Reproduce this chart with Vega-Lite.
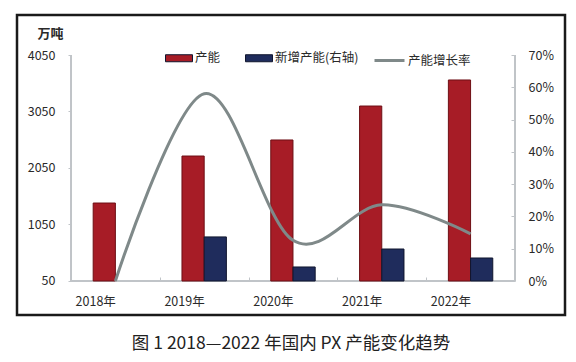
{
  "$schema": "https://vega.github.io/schema/vega-lite/v6.json",
  "width": 548,
  "height": 300,
  "autosize": {"type": "none"},
  "padding": {"left": 17, "top": 15, "right": 11, "bottom": 47},
  "background": "white",
  "config": {
    "view": {"stroke": "#1a1a1a", "strokeWidth": 2.5},
    "font": "Noto Sans CJK SC",
    "axis": {"labelFont": "Noto Sans CJK SC", "labelColor": "#2a2a2a", "labelFontSize": 12, "grid": false, "domain": false, "tickColor": "#c0c4c8"}
  },
  "title": {"text": "图 1  2018—2022 年国内 PX 产能变化趋势", "orient": "bottom", "fontSize": 17.5, "fontWeight": "normal", "color": "#222222", "offset": 20, "font": "Noto Sans CJK SC"},
  "datasets": {
    "bars": [
      {"year": "2018年", "series": "产能", "value": 1430},
      {"year": "2019年", "series": "产能", "value": 2262},
      {"year": "2020年", "series": "产能", "value": 2546},
      {"year": "2021年", "series": "产能", "value": 3147},
      {"year": "2022年", "series": "产能", "value": 3608},
      {"year": "2019年", "series": "新增产能(右轴)", "value": 830},
      {"year": "2020年", "series": "新增产能(右轴)", "value": 298},
      {"year": "2021年", "series": "新增产能(右轴)", "value": 616},
      {"year": "2022年", "series": "新增产能(右轴)", "value": 457}
    ],
    "rates": [
      {"year": "2018年", "series": "产能增长率", "rate": 0},
      {"year": "2019年", "series": "产能增长率", "rate": 0.58},
      {"year": "2020年", "series": "产能增长率", "rate": 0.126},
      {"year": "2021年", "series": "产能增长率", "rate": 0.236},
      {"year": "2022年", "series": "产能增长率", "rate": 0.146}
    ]
  },
  "data": {"name": "bars"},
  "layer": [
    {
      "layer": [
        {
          "mark": {"type": "rule", "color": "#c0c4c8", "strokeWidth": 1.2},
          "encoding": {
            "x": {"datum": "2018年", "type": "nominal", "bandPosition": 0},
            "y": {"datum": 50, "type": "quantitative", "scale": {"domain": [-552, 4758], "nice": false, "zero": false}},
            "y2": {"datum": 4050}
          }
        },
        {
          "mark": {"type": "rule", "color": "#c0c4c8", "strokeWidth": 1.2},
          "encoding": {
            "x": {"datum": "2022年", "type": "nominal", "bandPosition": 1},
            "y": {"datum": 50, "type": "quantitative", "scale": {"domain": [-552, 4758], "nice": false, "zero": false}},
            "y2": {"datum": 4050}
          }
        },
        {
          "mark": {"type": "rule", "color": "#c0c4c8", "strokeWidth": 1.2},
          "encoding": {
            "x": {"datum": "2018年", "type": "nominal", "bandPosition": 0},
            "x2": {"datum": "2022年", "bandPosition": 1},
            "y": {"datum": 50, "type": "quantitative", "scale": {"domain": [-552, 4758], "nice": false, "zero": false}}
          }
        },
        {
          "transform": [{"filter": "datum.series === '产能'"}],
          "mark": {"type": "bar", "stroke": "#6e0f15", "strokeWidth": 1},
          "encoding": {
            "x": {"field": "year", "type": "nominal", "sort": null,
              "scale": {"domain": ["2018年", "2019年", "2020年", "2021年", "2022年"], "paddingInner": 0, "paddingOuter": 0.5856, "align": 0.519},
              "axis": {"orient": "bottom", "offset": -34, "title": null, "labelAngle": 0, "tickBand": "extent", "tickSize": -4, "labelPadding": 24, "labelFontSize": 12.5}},
            "xOffset": {"field": "series", "type": "nominal", "scale": {"domain": ["产能", "新增产能(右轴)"], "paddingInner": 0, "paddingOuter": 1.06}},
            "y": {"field": "value", "type": "quantitative", "scale": {"domain": [-552, 4758], "nice": false, "zero": false},
              "axis": {"orient": "left", "offset": -54, "values": [50, 1050, 2050, 3050, 4050], "format": "d", "tickSize": 3, "labelPadding": 13, "labelFontSize": 12.5,
                "title": "万吨", "titleAngle": 0, "titleX": -21, "titleY": 18, "titleAlign": "center", "titleBaseline": "middle", "titleFontSize": 13, "titleFontWeight": "bold", "titleColor": "#2a2a2a"}},
            "y2": {"datum": 50},
            "fill": {"field": "series", "type": "nominal",
              "scale": {"domain": ["产能", "新增产能(右轴)"], "range": ["#a71c26", "#1f2c5c"]},
              "legend": {"orient": "none", "legendX": 148, "legendY": 29, "direction": "horizontal", "title": null,
                "symbolType": "M-1,-0.26H1V0.26H-1Z", "symbolSize": 729, "labelFontSize": 12.5, "labelColor": "#2a2a2a", "labelOffset": 2, "columnPadding": 22, "symbolStrokeWidth": 1, "symbolStrokeColor": "#222"}}
          }
        },
        {
          "transform": [{"filter": "datum.series !== '产能'"}],
          "mark": {"type": "bar", "stroke": "#10162e", "strokeWidth": 1},
          "encoding": {
            "x": {"field": "year", "type": "nominal", "sort": null},
            "xOffset": {"field": "series", "type": "nominal"},
            "y": {"field": "value", "type": "quantitative", "scale": {"domain": [-552, 4758], "nice": false, "zero": false}},
            "y2": {"datum": 50},
            "fill": {"field": "series", "type": "nominal"}
          }
        }
      ]
    },
    {
      "data": {"name": "rates"},
      "mark": {"type": "line", "interpolate": "cardinal", "strokeWidth": 3},
      "encoding": {
        "x": {"field": "year", "type": "nominal", "sort": null},
        "y": {"field": "rate", "type": "quantitative", "scale": {"domain": [-0.1053, 0.8239], "nice": false, "zero": false},
          "axis": {"orient": "right", "offset": -50, "values": [0, 0.1, 0.2, 0.3, 0.4, 0.5, 0.6, 0.7], "format": ".0%", "tickSize": -4, "labelPadding": 17, "labelFontSize": 12.5, "title": null}},
        "stroke": {"field": "series", "type": "nominal",
          "scale": {"domain": ["产能增长率"], "range": ["#7f8989"]},
          "legend": {"orient": "none", "legendX": 356, "legendY": 29, "title": null, "symbolType": "stroke", "symbolSize": 900, "symbolStrokeWidth": 3, "labelFontSize": 12.5, "labelColor": "#2a2a2a", "labelOffset": 2}}
      }
    }
  ],
  "resolve": {"scale": {"y": "independent"}}
}
